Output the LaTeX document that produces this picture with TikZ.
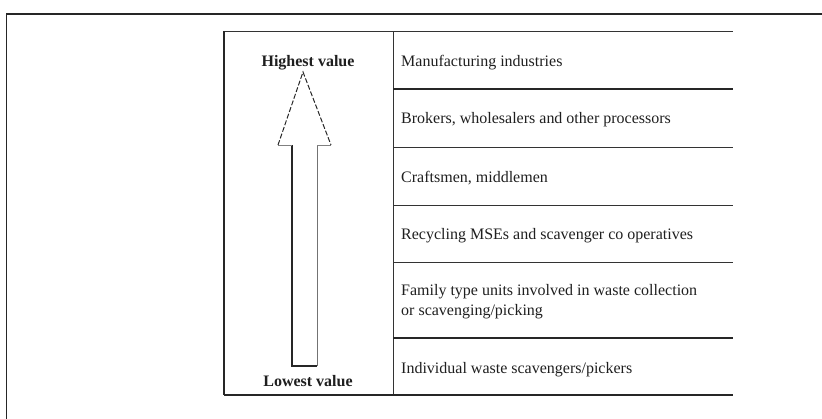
\documentclass[tikz,border=0pt]{standalone}
\usepackage{fontspec}
\setmainfont{Liberation Serif}
\begin{document}
\begin{tikzpicture}[x=1pt,y=-1pt,
  rowtext/.style={anchor=base west,inner sep=0pt,font=\fontsize{16}{20}\selectfont,text=black!88},
  endlabel/.style={anchor=base,inner sep=0pt,font=\fontsize{16}{19}\selectfont\bfseries,text=black!88},
  thinrule/.style={line width=0.9pt,draw=black!80},
  thickrule/.style={line width=1.9pt,draw=black!85}]
\useasboundingbox (0,0) rectangle (822,419);
% outer frame, running off the right and bottom edges
\draw[line width=1.4pt,black!85] (6.5,419) -- (6.5,14) -- (822,14);
% table frame and column divider
\draw[thinrule] (224,31.5) -- (733,31.5);
\draw[line width=1.4pt,black!85] (224,31.5) -- (224,395);
\draw[thinrule] (393,31.5) -- (393,395);
% row rules
\draw[thickrule] (224,395) -- (733,395);
\draw[thickrule] (393,89) -- (733,89);
\draw[thinrule] (393,147) -- (733,147);
\draw[thinrule] (393,205) -- (733,205);
\draw[thinrule] (393,262) -- (733,262);
\draw[thickrule] (393,338) -- (733,338);
% row labels
\node[rowtext] (r1) at (401,67) {Manufacturing industries};
\node[rowtext] (r2) at (401,124) {Brokers, wholesalers and other processors};
\node[rowtext] (r3) at (401,183) {Craftsmen, middlemen};
\node[rowtext] (r4) at (401,240) {Recycling MSEs and scavenger co operatives};
\node[rowtext,align=left] (r5) at (401,316) {Family type units involved in waste collection\\or scavenging/picking};
\node[rowtext] (r6) at (401,374) {Individual waste scavengers/pickers};
% value scale
\node[endlabel] (hi) at (308,67) {Highest value};
\node[endlabel] (lo) at (308,387) {Lowest value};
% hollow arrow: solid shaft, dashed head
\coordinate (tip) at (303,72);
\coordinate (hl) at (278,145);
\coordinate (hr) at (331,145);
\coordinate (sl) at (292,145);
\coordinate (sr) at (317,145);
\coordinate (bl) at (292,366);
\coordinate (br) at (317,366);
\draw[line width=1.2pt,black!85] (sl) -- (bl) -- (br);
\draw[line width=0.8pt,black!55] (br) -- (sr);
\draw[line width=0.7pt,black!50] (hl) -- (sl) (sr) -- (hr);
\draw[line width=1pt,black!85,dash pattern=on 5pt off 2pt] (hl) -- (tip) -- (hr);
\end{tikzpicture}
\end{document}
